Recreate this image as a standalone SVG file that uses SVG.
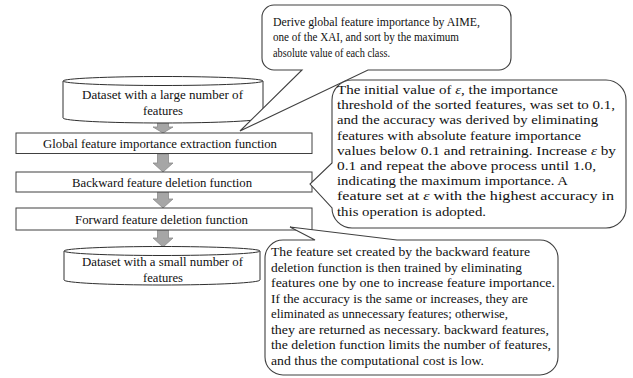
<svg xmlns="http://www.w3.org/2000/svg" width="633" height="378" viewBox="0 0 633 378" font-family="'Liberation Serif', 'DejaVu Serif', serif">
<style>
.bg{fill:#ffffff}
.box{fill:#ffffff;stroke:#404040;stroke-width:1}
.cyl{fill:#ffffff;stroke:#303030;stroke-width:1}
.arr{fill:#a6a6a6;stroke:#8a8a8a;stroke-width:0.8}
.call{fill:#ffffff;stroke:#404040;stroke-width:1.1}
text{font-family:'Liberation Serif','DejaVu Serif',serif;fill:#111111}
.t{font-size:13.5px}
.n1{font-size:13px}
.n2{font-size:13.5px}
.n3{font-size:13px}
</style>
<rect class="bg" x="0" y="0" width="633" height="378"/>
<g id="connectors">
<polygon class="arr" points="157.5,122 168.5,122 168.5,127 173,127 163,133 153,127 157.5,127"/>
<polygon class="arr" points="157.5,154 168.5,154 168.5,163 173,163 163,172 153,163 157.5,163"/>
<polygon class="arr" points="157.5,192 168.5,192 168.5,199 173,199 163,208 153,199 157.5,199"/>
<polygon class="arr" points="157.5,230 168.5,230 168.5,238 173,238 163,247 153,238 157.5,238"/>
</g>
<g id="dataset-large">
<path class="cyl" d="M63,81 V118 A100,5 0 0 0 263,118 V81"/>
<ellipse class="cyl" cx="163" cy="81" rx="100" ry="4.5"/>
<text class="t" x="82" y="98.5" textLength="161" lengthAdjust="spacingAndGlyphs">Dataset with a large number of</text>
<text class="t" x="143" y="114.5" textLength="40" lengthAdjust="spacingAndGlyphs">features</text>
</g>
<g id="global-extraction">
<rect class="box" x="16" y="133" width="296" height="20.5"/>
<text class="t" x="43" y="148" textLength="234" lengthAdjust="spacingAndGlyphs">Global feature importance extraction function</text>
</g>
<g id="backward-deletion">
<rect class="box" x="16" y="172" width="296" height="20"/>
<text class="t" x="72" y="186.5" textLength="180" lengthAdjust="spacingAndGlyphs">Backward feature deletion function</text>
</g>
<g id="forward-deletion">
<rect class="box" x="16" y="208" width="296" height="22"/>
<text class="t" x="75" y="223.5" textLength="173" lengthAdjust="spacingAndGlyphs">Forward feature deletion function</text>
</g>
<g id="dataset-small">
<path class="cyl" d="M64,251 V280 A98,5 0 0 0 260,280 V251"/>
<ellipse class="cyl" cx="162" cy="251" rx="98" ry="4.5"/>
<text class="t" x="82" y="265.5" textLength="161" lengthAdjust="spacingAndGlyphs">Dataset with a small number of</text>
<text class="t" x="143" y="281.5" textLength="40" lengthAdjust="spacingAndGlyphs">features</text>
</g>
<g id="note-aime">
<path class="call" d="M274,5 H499 A12,12 0 0 1 511,17 V58 A12,12 0 0 1 499,70 H368 L240,131 L302,70 H274 A12,12 0 0 1 262,58 V17 A12,12 0 0 1 274,5 Z"/>
<text class="n1" x="273" y="26" textLength="207" lengthAdjust="spacingAndGlyphs">Derive global feature importance by AIME,</text>
<text class="n1" x="273" y="41" textLength="186" lengthAdjust="spacingAndGlyphs">one of the XAI, and sort by the maximum</text>
<text class="n1" x="273" y="57" textLength="117" lengthAdjust="spacingAndGlyphs">absolute value of each class.</text>
</g>
<g id="note-backward">
<path class="call" d="M352,80 H606 A20,20 0 0 1 626,100 V208 A20,20 0 0 1 606,228 H352 A20,20 0 0 1 332,208 L310,184 L332,163 V100 A20,20 0 0 1 352,80 Z"/>
<text class="n2" x="337" y="94" textLength="221" lengthAdjust="spacingAndGlyphs">The initial value of <tspan font-style="italic">ε</tspan>, the importance</text>
<text class="n2" x="337" y="109.2" textLength="278" lengthAdjust="spacingAndGlyphs">threshold of the sorted features, was set to 0.1,</text>
<text class="n2" x="337" y="124.4" textLength="261" lengthAdjust="spacingAndGlyphs">and the accuracy was derived by eliminating</text>
<text class="n2" x="337" y="139.6" textLength="244" lengthAdjust="spacingAndGlyphs">features with absolute feature importance</text>
<text class="n2" x="337" y="154.8" textLength="279" lengthAdjust="spacingAndGlyphs">values below 0.1 and retraining. Increase <tspan font-style="italic">ε</tspan> by</text>
<text class="n2" x="337" y="170" textLength="259" lengthAdjust="spacingAndGlyphs">0.1 and repeat the above process until 1.0,</text>
<text class="n2" x="337" y="185.2" textLength="231" lengthAdjust="spacingAndGlyphs">indicating the maximum importance. A</text>
<text class="n2" x="337" y="200.4" textLength="277" lengthAdjust="spacingAndGlyphs">feature set at <tspan font-style="italic">ε</tspan> with the highest accuracy in</text>
<text class="n2" x="337" y="215.6" textLength="149" lengthAdjust="spacingAndGlyphs">this operation is adopted.</text>
</g>
<g id="note-forward">
<path class="call" d="M283,240 H315 L290,227 L397,240 H540 A18,18 0 0 1 558,258 V357 A18,18 0 0 1 540,375 H283 A18,18 0 0 1 265,357 V258 A18,18 0 0 1 283,240 Z"/>
<text class="n3" x="271" y="256" textLength="259" lengthAdjust="spacingAndGlyphs">The feature set created by the backward feature</text>
<text class="n3" x="271" y="271.5" textLength="251" lengthAdjust="spacingAndGlyphs">deletion function is then trained by eliminating</text>
<text class="n3" x="271" y="287" textLength="284" lengthAdjust="spacingAndGlyphs">features one by one to increase feature importance.</text>
<text class="n3" x="271" y="302.5" textLength="257" lengthAdjust="spacingAndGlyphs">If the accuracy is the same or increases, they are</text>
<text class="n3" x="271" y="318" textLength="237" lengthAdjust="spacingAndGlyphs">eliminated as unnecessary features; otherwise,</text>
<text class="n3" x="271" y="333.5" textLength="278" lengthAdjust="spacingAndGlyphs">they are returned as necessary. backward features,</text>
<text class="n3" x="271" y="349" textLength="280" lengthAdjust="spacingAndGlyphs">the deletion function limits the number of features,</text>
<text class="n3" x="271" y="364.5" textLength="213" lengthAdjust="spacingAndGlyphs">and thus the computational cost is low.</text>
</g>
</svg>
